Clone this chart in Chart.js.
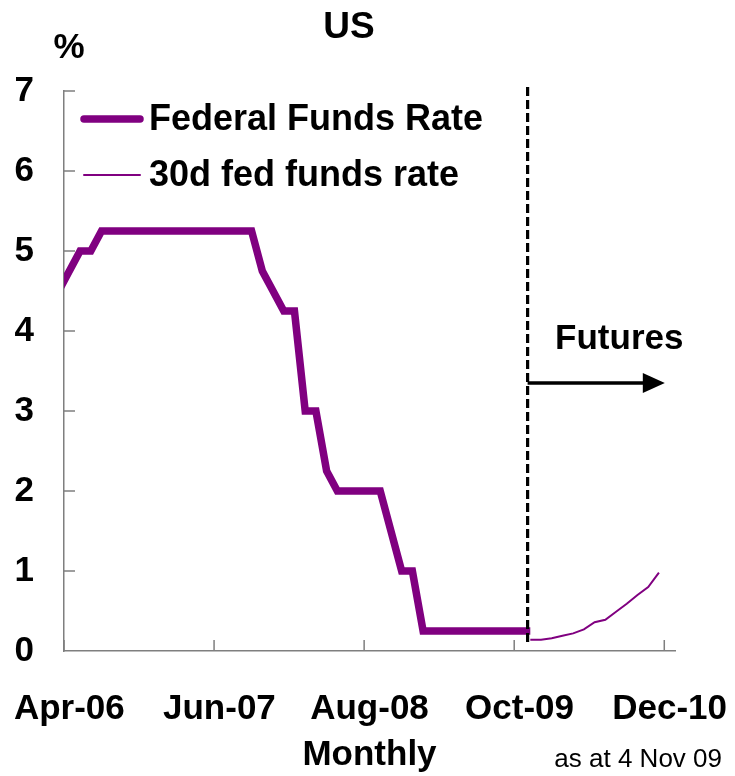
<!DOCTYPE html>
<html>
<head>
<meta charset="utf-8">
<script src="https://cdn.jsdelivr.net/npm/chart.js@4.4.0/dist/chart.umd.min.js"></script>
<style>
  html, body { margin: 0; padding: 0; background: #ffffff; }
  #wrap { width: 735px; height: 776px; }
</style>
</head>
<body>
<div id="wrap"><canvas id="chart" width="735" height="776"></canvas></div>
<script>
// Monthly categories (mid-month observations)
const months = [
  'Mar-06','Apr-06','May-06','Jun-06','Jul-06','Aug-06','Sep-06','Oct-06','Nov-06','Dec-06',
  'Jan-07','Feb-07','Mar-07','Apr-07','May-07','Jun-07','Jul-07','Aug-07','Sep-07','Oct-07','Nov-07','Dec-07',
  'Jan-08','Feb-08','Mar-08','Apr-08','May-08','Jun-08','Jul-08','Aug-08','Sep-08','Oct-08','Nov-08','Dec-08',
  'Jan-09','Feb-09','Mar-09','Apr-09','May-09','Jun-09','Jul-09','Aug-09','Sep-09','Oct-09','Nov-09','Dec-09',
  'Jan-10','Feb-10','Mar-10','Apr-10','May-10','Jun-10','Jul-10','Aug-10','Sep-10','Oct-10','Nov-10','Dec-10'
];

// Axis labels shown along the bottom
const tickLabels = ['Apr-06', 'Jun-07', 'Aug-08', 'Oct-09', 'Dec-10'];

// Federal Funds target rate, Mar-06 .. Nov-09 (%)
const fedFundsStart = 'Mar-06';
const fedFundsRate = [
  4.50, 4.75, 5.00, 5.00,
  5.25, 5.25, 5.25, 5.25, 5.25, 5.25, 5.25, 5.25, 5.25, 5.25, 5.25, 5.25, 5.25, 5.25, 5.25,
  4.75, 4.50, 4.25, 4.25, 3.00, 3.00, 2.25,
  2.00, 2.00, 2.00, 2.00, 2.00,
  1.50, 1.00, 1.00,
  0.25, 0.25, 0.25, 0.25, 0.25, 0.25, 0.25, 0.25, 0.25, 0.25, 0.25
];

// 30-day fed funds futures curve, Nov-09 .. Nov-10 (%)
const futuresStart = 'Nov-09';
const futuresRate = [0.14, 0.14, 0.16, 0.19, 0.22, 0.27, 0.36, 0.39, 0.49, 0.59, 0.70, 0.80, 0.98];

const purple = '#800080';
const axisColor = '#7f7f7f';
const fontFamily = "'Liberation Sans', Arial, Helvetica, sans-serif";

function toPoints(start, values) {
  const i0 = months.indexOf(start);
  return values.map((v, i) => ({ x: i0 + i, y: v }));
}

// Position of the futures cut-over marker (early Nov-09) and arrow
const cutover = months.indexOf('Nov-09') - 0.25;
const arrowEnd = months.indexOf('Dec-10') - 0.45;
const arrowLevel = 3.35;

const overlay = {
  id: 'overlay',
  beforeDatasetsDraw(chart) {
    const { ctx, chartArea: a, scales: { x, y } } = chart;
    ctx.save();
    ctx.strokeStyle = axisColor;
    ctx.lineWidth = 1.5;
    ctx.beginPath();
    // inward tick marks on the value axis
    y.ticks.forEach(t => {
      if (t.value === 0) return;
      const py = y.getPixelForValue(t.value);
      ctx.moveTo(a.left, py);
      ctx.lineTo(a.left + 11, py);
    });
    // inward tick marks on the month axis, at category boundaries
    tickLabels.forEach(l => {
      const px = x.getPixelForValue(months.indexOf(l) - 0.5);
      ctx.moveTo(px, a.bottom);
      ctx.lineTo(px, a.bottom - 11);
    });
    ctx.stroke();
    ctx.restore();
  },
  afterDatasetsDraw(chart) {
    const { ctx, chartArea: a, scales: { x, y } } = chart;
    ctx.save();

    // dashed cut-over line
    const cx = x.getPixelForValue(cutover);
    ctx.strokeStyle = '#000';
    ctx.lineWidth = 3.2;
    ctx.setLineDash([9, 4]);
    ctx.beginPath();
    ctx.moveTo(cx, a.top - 4);
    ctx.lineTo(cx, y.getPixelForValue(0.08));
    ctx.stroke();
    ctx.setLineDash([]);

    // arrow towards the futures period
    const ay = y.getPixelForValue(arrowLevel);
    const ax = x.getPixelForValue(arrowEnd);
    ctx.lineWidth = 3.5;
    ctx.beginPath();
    ctx.moveTo(cx, ay);
    ctx.lineTo(ax - 18, ay);
    ctx.stroke();
    ctx.fillStyle = '#000';
    ctx.beginPath();
    ctx.moveTo(ax, ay);
    ctx.lineTo(ax - 22, ay - 10);
    ctx.lineTo(ax - 22, ay + 10);
    ctx.closePath();
    ctx.fill();

    ctx.font = 'bold 35px ' + fontFamily;
    ctx.textAlign = 'center';
    ctx.textBaseline = 'alphabetic';
    ctx.fillText('Futures', x.getPixelForValue(months.indexOf('Jul-10') + 0.3), y.getPixelForValue(3.78));

    // legend
    ctx.textAlign = 'left';
    ctx.textBaseline = 'middle';
    ctx.lineCap = 'round';
    ctx.font = 'bold 36px ' + fontFamily;
    chart.data.datasets.forEach((ds, i) => {
      const ly = a.top + 28 + i * 56;
      ctx.strokeStyle = ds.borderColor;
      ctx.lineWidth = ds.borderWidth;
      ctx.beginPath();
      ctx.moveTo(a.left + 20, ly);
      ctx.lineTo(a.left + 76, ly);
      ctx.stroke();
      ctx.fillStyle = '#000';
      ctx.fillText(ds.label, a.left + 85, ly + 1);
    });
    ctx.restore();
  },
  afterDraw(chart) {
    const { ctx } = chart;
    ctx.save();
    ctx.fillStyle = '#000';
    ctx.textBaseline = 'alphabetic';
    ctx.textAlign = 'center';
    ctx.font = 'bold 37px ' + fontFamily;
    ctx.fillText('US', 349, 38);
    ctx.font = 'bold 35px ' + fontFamily;
    ctx.fillText('%', 69, 58);
    ctx.textAlign = 'right';
    ctx.font = '26px ' + fontFamily;
    ctx.fillText('as at 4 Nov 09', 722, 767);
    ctx.restore();
  }
};

new Chart(document.getElementById('chart'), {
  type: 'line',
  data: {
    datasets: [
      {
        label: 'Federal Funds Rate',
        data: toPoints(fedFundsStart, fedFundsRate),
        borderColor: purple,
        borderWidth: 7.5,
        pointRadius: 0,
        tension: 0,
        borderCapStyle: 'butt',
        borderJoinStyle: 'miter'
      },
      {
        label: '30d fed funds rate',
        data: toPoints(futuresStart, futuresRate),
        borderColor: purple,
        borderWidth: 2,
        pointRadius: 0,
        tension: 0
      }
    ]
  },
  options: {
    responsive: false,
    animation: false,
    events: [],
    layout: { padding: { left: 0, right: 60, top: 91, bottom: 0 } },
    plugins: {
      legend: { display: false },
      tooltip: { enabled: false },
      title: { display: false }
    },
    scales: {
      x: {
        type: 'linear',
        min: 0.5,
        max: months.length - 0.5,
        grid: { display: false, drawTicks: false },
        border: { display: true, color: axisColor, width: 1.5 },
        afterBuildTicks: s => { s.ticks = tickLabels.map(l => ({ value: months.indexOf(l) })); },
        ticks: {
          autoSkip: false,
          maxRotation: 0,
          padding: 37,
          color: '#000',
          font: { family: fontFamily, size: 35, weight: 'bold' },
          callback: v => months[v]
        },
        title: {
          display: true,
          text: 'Monthly',
          color: '#000',
          font: { family: fontFamily, size: 35, weight: 'bold' },
          padding: { top: 0, bottom: 0 }
        },
        afterFit: s => {
          s.height = 125;
          s.paddingLeft = 0;
          s.paddingRight = 0;
        }
      },
      y: {
        min: 0,
        max: 7,
        grid: { display: false, drawTicks: false },
        border: { display: true, color: axisColor, width: 1.5 },
        ticks: {
          stepSize: 1,
          padding: 30,
          color: '#000',
          font: { family: fontFamily, size: 35, weight: 'bold' }
        },
        afterFit: s => {
          s.width = 64;
          s.paddingTop = 0;
          s.paddingBottom = 0;
        }
      }
    }
  },
  plugins: [overlay]
});
</script>
</body>
</html>
